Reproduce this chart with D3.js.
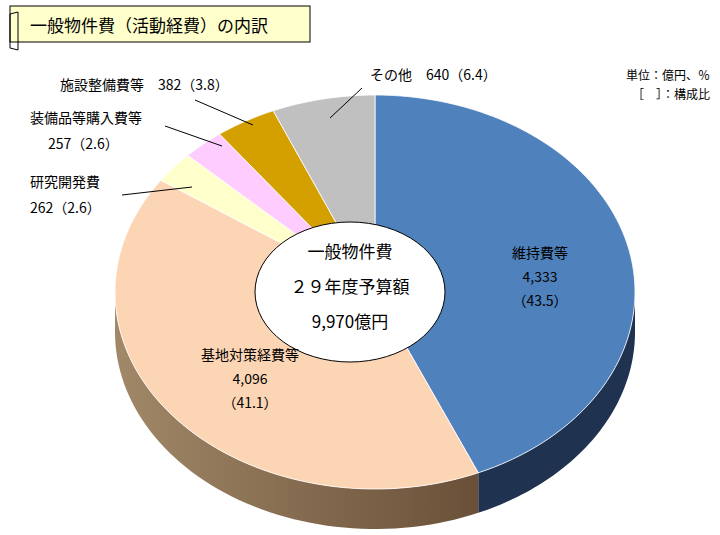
<!DOCTYPE html>
<html><head><meta charset="utf-8">
<script src="https://cdn.jsdelivr.net/npm/d3@7"></script>
<style>body{margin:0;background:#fff}svg{font-family:"Noto Sans CJK JP",sans-serif}</style>
</head><body><svg id="c" width="720" height="535"></svg>
<script>
const categories=["維持費等","基地対策経費等","研究開発費","装備品等購入費等","施設整備費等","その他"];
const amounts=["4,333","4,096","262","257","382","640"];
const shares=[43.5,41.1,2.6,2.6,3.8,6.4];
const topColors=["#4f81bd","#fcd5b5","#ffffcc","#ffccff","#d4a000","#c0c0c0"];
const sideColors=["#1f324f","#8a6e52","#999977","#997799","#7f6000","#808080"];
const svg=d3.select("#c");
const cx=375,cy=292,rx=260,ry=197,depth=40;
const pie=d3.pie().sort(null).value(d=>d)(shares);
const pt=(a,dy=0)=>[cx+rx*Math.sin(a),cy-ry*Math.cos(a)+dy];
const defs=svg.append("defs");
const g=defs.append("linearGradient").attr("id","sg").attr("x1","0").attr("x2","1");
g.append("stop").attr("offset","0").attr("stop-color","#a08868");
g.append("stop").attr("offset","1").attr("stop-color","#6a5038");
pie.forEach((p,i)=>{
  const a0=Math.max(p.startAngle,Math.PI/2),a1=Math.min(p.endAngle,Math.PI*1.5);
  if(a1<=a0)return;
  const n=60,top=d3.range(n+1).map(k=>pt(a0+(a1-a0)*k/n)),bot=top.map(q=>[q[0],q[1]+depth]).reverse();
  svg.append("path").attr("d",d3.line()(top.concat(bot))+"Z").attr("fill",i==1?"url(#sg)":sideColors[i]);
});
pie.forEach((p,i)=>{
  const n=Math.max(4,Math.ceil((p.endAngle-p.startAngle)*40));
  const pts=[[cx,cy]].concat(d3.range(n+1).map(k=>pt(p.startAngle+(p.endAngle-p.startAngle)*k/n)));
  svg.append("path").attr("d",d3.line()(pts)+"Z").attr("fill",topColors[i]).attr("stroke","#fff").attr("stroke-width",0.8);
});
svg.append("ellipse").attr("cx",350).attr("cy",292).attr("rx",95).attr("ry",70).attr("fill","#fff").attr("stroke","#000");
[["一般物件費",258],["２９年度予算額",293],["9,970億円",328]].forEach(t=>svg.append("text").attr("x",350).attr("y",t[1]).attr("text-anchor","middle").attr("font-size",17).text(t[0]));
const T=(x,y,s,a="middle",fs=14)=>svg.append("text").attr("x",x).attr("y",y).attr("text-anchor",a).attr("font-size",fs).text(s);
T(540,258,categories[0]);T(540,282,amounts[0]);T(540,306,"（"+shares[0]+"）");
T(250,360,categories[1]);T(250,384,amounts[1]);T(250,408,"（"+shares[1]+"）");
T(30,187,categories[2],"start");T(30,213,amounts[2]+"（"+shares[2]+"）","start");
T(30,123,categories[3],"start");T(48,149,amounts[3]+"（"+shares[3]+"）","start");
T(60,90,categories[4]+"　"+amounts[4]+"（"+shares[4]+"）","start");
T(370,80,categories[5]+"　"+amounts[5]+"（"+shares[5]+"）","start");
const L=(x1,y1,x2,y2)=>svg.append("line").attr("x1",x1).attr("y1",y1).attr("x2",x2).attr("y2",y2).attr("stroke","#000");
L(122,195,192,187);L(165,126,222,146);L(195,100,253,125);L(362,88,330,118);
T(710,80,"単位：億円、％","end",12);T(710,99,"［　］：構成比","end",12);
svg.append("rect").attr("x",10).attr("y",6).attr("width",300).attr("height",36).attr("fill","#ffffcc").attr("stroke","#000");
svg.append("path").attr("d","M18,12 L10,14 L10,48 L18,50").attr("fill","none").attr("stroke","#000");
svg.append("path").attr("d","M18,12 L18,50").attr("stroke","#000");
T(30,32,"一般物件費（活動経費）の内訳","start",17);
</script></body></html>
